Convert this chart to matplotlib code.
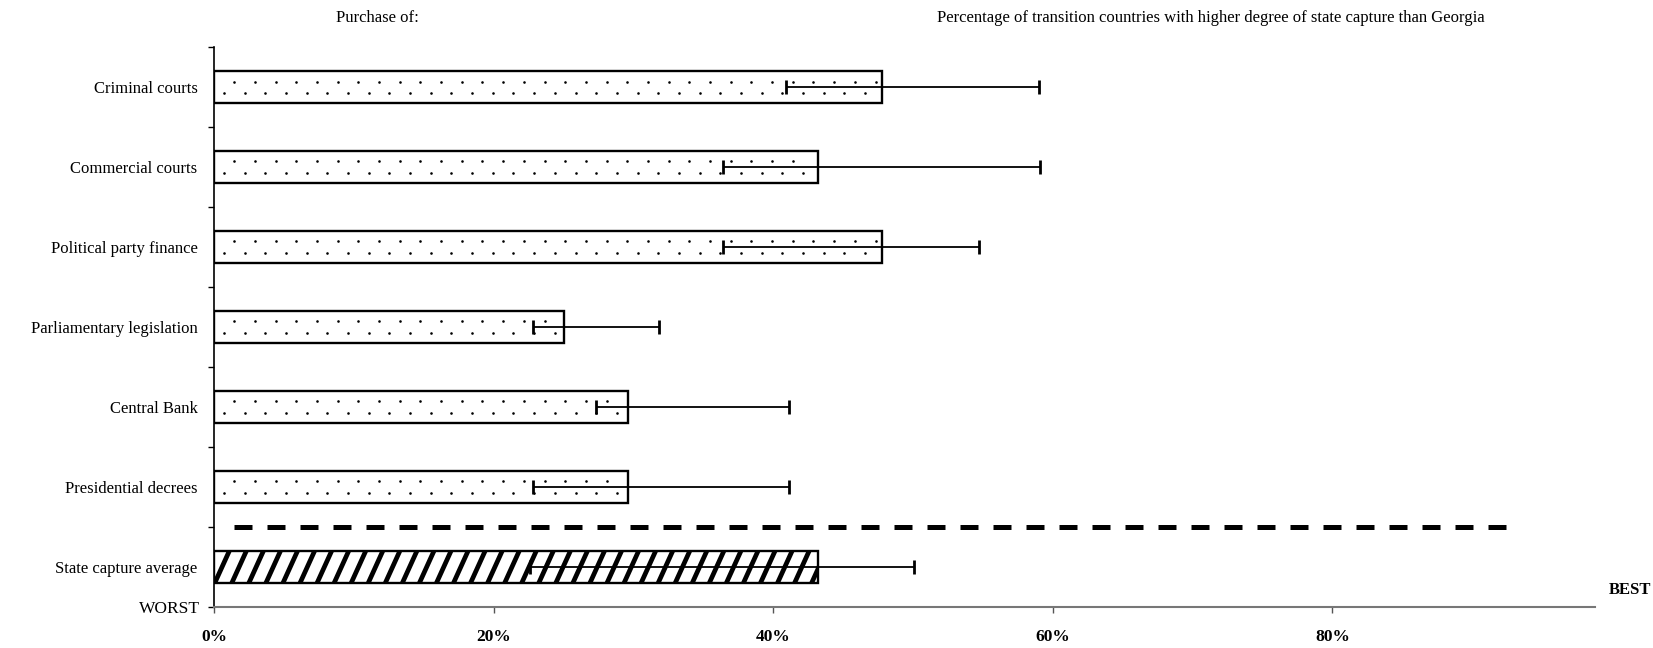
import numpy as np
import matplotlib
matplotlib.use("Agg")
import matplotlib.pyplot as plt
from matplotlib.collections import LineCollection

# purchase categories, top to bottom
categories = [
    "Criminal courts",
    "Commercial courts",
    "Political party finance",
    "Parliamentary legislation",
    "Central Bank",
    "Presidential decrees",
    "State capture average",
]
# share of transition countries with more state capture than Georgia (%)
values = [47.8, 43.2, 47.8, 25.0, 29.6, 29.6, 43.2]
# confidence range around each estimate (%)
low = [40.9, 36.4, 36.4, 22.8, 27.3, 22.8, 22.6]
high = [59.0, 59.1, 54.7, 31.8, 41.1, 41.1, 50.1]
xticks = [0, 20, 40, 60, 80]

BAR_H = 0.4


def dot_fill(ax, yc, width, step=1.48):
    """Sparse staggered dots inside a bar, two rows."""
    for k, dy in enumerate([-0.07, 0.07]):
        start = 0.7 + (step / 2 if k == 0 else 0)
        xs = np.arange(start, width - 0.4, step)
        ax.scatter(xs, np.full(len(xs), yc + dy), s=3.5, color="black",
                   marker="o", linewidths=0, zorder=2.5)


def stripe_fill(ax, bar, yc, width, step=1.22, run=1.3):
    """Steep diagonal stripes clipped to a bar."""
    segs = []
    for x0 in np.arange(-run - step, width + step, step):
        segs.append([(x0, yc + 0.25), (x0 + run, yc - 0.25)])
    lc = LineCollection(segs, colors="black", linewidths=3.4, zorder=2.5)
    ax.add_collection(lc)
    lc.set_clip_path(bar)


def main():
    plt.rcParams["font.family"] = ["Liberation Serif", "DejaVu Serif"]

    fig = plt.figure(figsize=(16.53, 6.48), dpi=100)
    ax = fig.add_axes([0.1295, 0.0633, 0.8355, 0.864])

    y = np.arange(len(categories))

    bars = ax.barh(y, values, height=BAR_H, color="white", edgecolor="none",
                   zorder=2)
    for i, (bar, v) in enumerate(zip(bars, values)):
        if i < len(categories) - 1:
            dot_fill(ax, y[i], v)
        else:
            stripe_fill(ax, bar, y[i], v)
    # outlines on top of the fill texture
    ax.barh(y, values, height=BAR_H, fill=False, edgecolor="black",
            linewidth=1.7, zorder=2.6)

    vals = np.array(values)
    xerr = [vals - np.array(low), np.array(high) - vals]
    ax.errorbar(vals, y, xerr=xerr, fmt="none", ecolor="black",
                elinewidth=1.3, capsize=5, capthick=2, zorder=3)

    # separator between the individual items and the average
    sep = (y[-2] + y[-1]) / 2
    ax.plot([1.4, 92.6], [sep, sep], color="black", lw=3.6,
            linestyle=(0, (3.6, 3.0)), zorder=2)

    ax.set_ylim(len(categories) - 0.5, -0.5)
    ax.set_xlim(0, 98.8)

    ax.set_yticks(y)
    ax.set_yticklabels(categories, fontsize=12)
    ax.tick_params(axis="y", length=0, pad=12)
    ax.set_yticks(np.arange(-0.5, len(categories), 1.0), minor=True)
    ax.tick_params(axis="y", which="minor", length=4, width=1, direction="out")

    ax.set_xticks(xticks)
    ax.set_xticklabels(["{}%".format(t) for t in xticks], fontsize=12.5,
                       fontweight="bold")
    ax.tick_params(axis="x", length=4, width=1, direction="out", pad=12,
                   color="#555555")

    for side in ["top", "right"]:
        ax.spines[side].set_visible(False)
    ax.spines["left"].set_linewidth(1.2)
    ax.spines["bottom"].set_color("#777777")
    ax.spines["bottom"].set_linewidth(1.5)

    fig.text(377 / 1653, 1 - 18 / 648, "Purchase of:", ha="center",
             va="center", fontsize=12)
    fig.text(1211 / 1653, 1 - 18 / 648,
             "Percentage of transition countries with higher degree of "
             "state capture than Georgia",
             ha="center", va="center", fontsize=12)
    fig.text(200 / 1653, 1 - 609 / 648, "WORST", ha="right", va="center",
             fontsize=12.5)
    fig.text(1651 / 1653, 1 - 590 / 648, "BEST", ha="right", va="center",
             fontsize=12, fontweight="bold")

    fig.savefig("out.png", dpi=100)


if __name__ == "__main__":
    main()
